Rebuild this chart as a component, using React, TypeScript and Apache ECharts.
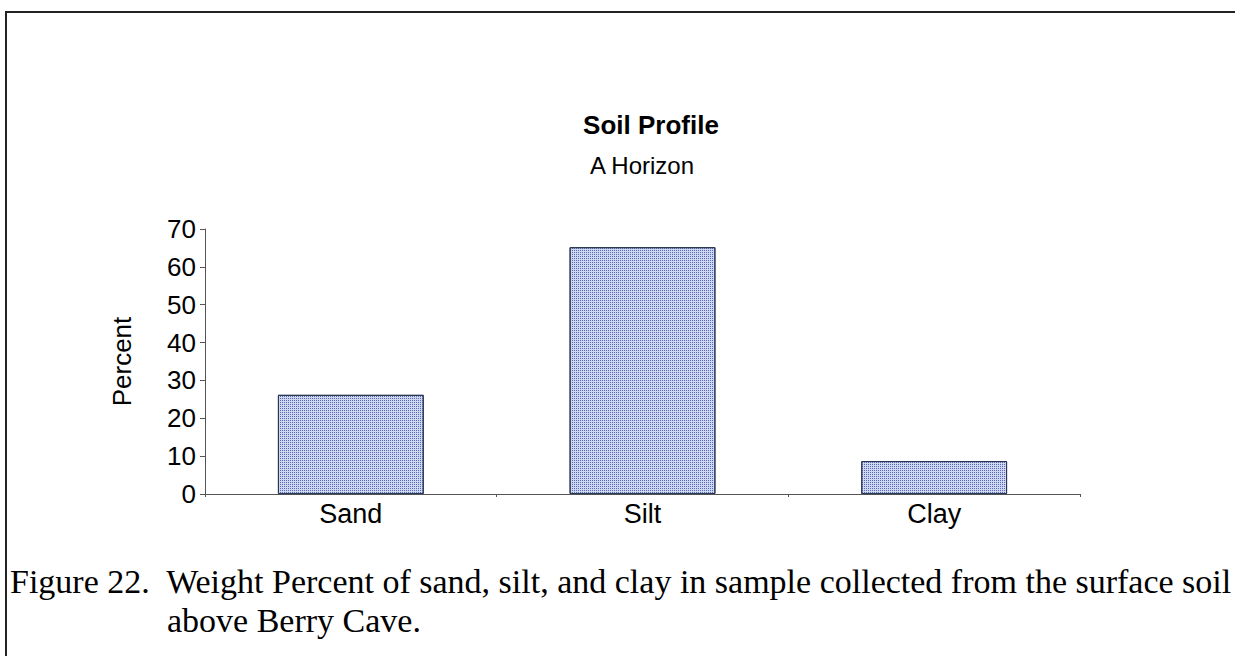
import React, { useEffect, useRef } from "react";
import * as echarts from "echarts";

const categories = ["Sand", "Silt", "Clay"];
const percentValues = [26.2, 65.2, 8.7];
const titleText = "Soil Profile";
const subtitleText = "A Horizon";
const yAxisName = "Percent";
const captionLine1 = "Figure 22.  Weight Percent of sand, silt, and clay in sample collected from the surface soil";
const captionLine2 = "above Berry Cave.";

export default function App() {
  const ref = useRef<HTMLDivElement>(null);
  useEffect(() => {
    const chart = echarts.init(ref.current!, null, { renderer: "svg" });
    const sans = "Liberation Sans, Arial, sans-serif";
    chart.setOption({
      animation: false,
      backgroundColor: "#ffffff",
      title: [
        {
          text: titleText,
          left: 646,
          top: 107,
          textAlign: "center",
          textStyle: { fontFamily: sans, fontSize: 26, fontWeight: "bold", color: "#000" },
        },
        {
          text: subtitleText,
          left: 637,
          top: 148,
          textAlign: "center",
          textStyle: { fontFamily: sans, fontSize: 24, fontWeight: "normal", color: "#000" },
        },
      ],
      grid: { left: 205, right: 155, top: 229, bottom: 162, containLabel: false },
      xAxis: {
        type: "category",
        data: categories,
        axisLine: { lineStyle: { color: "#555", width: 1 } },
        axisTick: { show: true, alignWithLabel: false, length: 3, lineStyle: { color: "#555" } },
        axisLabel: { fontFamily: sans, fontSize: 27, color: "#000", margin: 6 },
      },
      yAxis: {
        type: "value",
        min: 0,
        max: 70,
        interval: 10,
        name: yAxisName,
        nameLocation: "middle",
        nameGap: 70,
        nameTextStyle: { fontFamily: sans, fontSize: 26, color: "#000" },
        axisLine: { show: true, lineStyle: { color: "#555", width: 1 } },
        axisTick: { show: true, length: 5, lineStyle: { color: "#555" } },
        axisLabel: { fontFamily: sans, fontSize: 26, color: "#000", margin: 9 },
        splitLine: { show: false },
      },
      series: [
        {
          type: "bar",
          data: percentValues,
          barWidth: "50%",
          itemStyle: {
            color: "#cfd6ef",
            borderColor: "#2a3550",
            borderWidth: 1,
            decal: {
              symbol: "rect",
              symbolSize: 1,
              dashArrayX: [1, 1],
              dashArrayY: [1, 1],
              rotation: 0,
              color: "rgba(65,88,170,0.85)",
            },
          },
        },
      ],
      graphic: [
        {
          type: "rect",
          shape: { x: 6, y: 12, width: 1300, height: 700 },
          style: { fill: "none", stroke: "#222", lineWidth: 2 },
          silent: true,
        },
        {
          type: "text",
          left: 10,
          top: 564,
          style: { text: captionLine1, font: "34px 'Liberation Serif', 'Times New Roman', serif", fill: "#000" },
        },
        {
          type: "text",
          left: 167,
          top: 603,
          style: { text: captionLine2, font: "34px 'Liberation Serif', 'Times New Roman', serif", fill: "#000" },
        },
      ],
    });
    return () => chart.dispose();
  }, []);
  return <div ref={ref} style={{ position: "absolute", left: 0, top: 0, width: 1235, height: 656 }} />;
}
